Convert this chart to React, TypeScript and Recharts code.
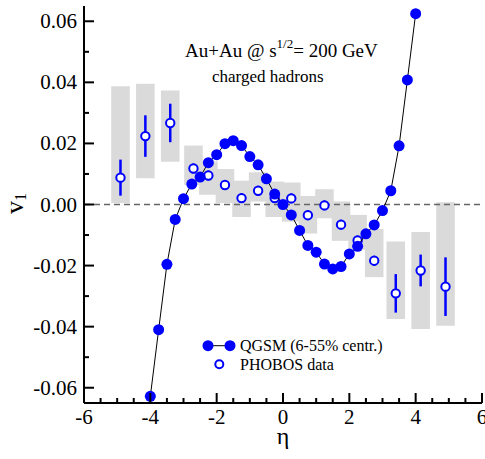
import React from 'react';
import { ComposedChart, Scatter, XAxis, YAxis, ReferenceArea, ReferenceLine, ErrorBar } from 'recharts';

// ---- data ----
const qgsmEta = [-4, -3.75, -3.5, -3.25, -3, -2.75, -2.5, -2.25, -2, -1.75, -1.5, -1.25, -1, -0.75, -0.5, -0.25, 0,
  0.25, 0.5, 0.75, 1, 1.25, 1.5, 1.75, 2, 2.25, 2.5, 2.75, 3, 3.25, 3.5, 3.75, 4];
const qgsmV1 = [-0.0628, -0.041, -0.0196, -0.0049, 0.0019, 0.0067, 0.009, 0.0137, 0.0163, 0.0199, 0.0209, 0.0193, 0.0157,
  0.013, 0.0084, 0.0034, 0.0, -0.0034, -0.0085, -0.0134, -0.0156, -0.0195, -0.0211, -0.0203, -0.0162, -0.0137, -0.0096,
  -0.0067, -0.002, 0.0045, 0.0192, 0.0408, 0.0625];

const phobosEta = [-4.9, -4.15, -3.4, -2.7, -2.25, -1.75, -1.25, -0.75, -0.25, 0.25, 0.75, 1.25, 1.75, 2.25, 2.75, 3.4, 4.15, 4.9];
const phobosV1 = [0.0088, 0.0224, 0.0267, 0.0118, 0.0095, 0.0064, 0.0021, 0.0045, 0.0021, 0.002, -0.0035, -0.0003,
  -0.0066, -0.0118, -0.0184, -0.0291, -0.0216, -0.0269];
const phobosStat = [0.0059, 0.0068, 0.0063, 0.0016, 0.0016, 0.0016, 0.0016, 0.0016, 0.0016, 0.0016, 0.0016, 0.0016,
  0.0016, 0.0016, 0.0016, 0.0063, 0.0052, 0.0096];
const phobosSysHigh = [0.0387, 0.0395, 0.0373, 0.0193, 0.0141, 0.0116, 0.0078, 0.0106, 0.0075, 0.0072, 0.0028, 0.005,
  0.001, -0.0034, -0.008, -0.0121, -0.009, 0.0007];
const phobosSysLow = [0.0005, 0.0086, 0.014, 0.0064, 0.0032, 0.0005, -0.0041, 0.001, -0.0041, -0.0056, -0.0095, -0.0045,
  -0.0119, -0.0148, -0.0238, -0.0375, -0.0408, -0.0397];

const xMajorTicks = [-6, -4, -2, 0, 2, 4, 6];
const xTickLabels = ['-6', '-4', '-2', '0', '2', '4', '6'];
const xMinorTicks = [-5.5, -5, -4.5, -3.5, -3, -2.5, -1.5, -1, -0.5, 0.5, 1, 1.5, 2.5, 3, 3.5, 4.5, 5, 5.5];
const yMajorTicks = [-0.06, -0.04, -0.02, 0, 0.02, 0.04, 0.06];
const yTickLabels = ['-0.06', '-0.04', '-0.02', '0.00', '0.02', '0.04', '0.06'];
const yMinorTicks = [-0.05, -0.03, -0.01, 0.01, 0.03, 0.05];

// ---- build ----
const qgsmData = qgsmEta.map((eta, i) => ({ eta, v: qgsmV1[i] }));
const phobosData = phobosEta.map((eta, i) => ({ eta, v: phobosV1[i], err: phobosStat[i] }));
const xTicks = [...xMajorTicks, ...xMinorTicks].sort((a, b) => a - b);
const yTicks = [...yMajorTicks, ...yMinorTicks].sort((a, b) => a - b);

const FONT = '"Liberation Serif", "Times New Roman", serif';
const BLUE = '#0000ff';
const BOX_HALF = 0.28;
const MAJOR = 10;
const MINOR = 5;
const near = (a: number, b: number) => Math.abs(a - b) < 1e-9;

const BottomTick = (p: any) => {
  const i = xMajorTicks.findIndex((t) => near(t, p.payload.value));
  const len = i >= 0 ? MAJOR : MINOR;
  return (
    <g>
      <line x1={p.x} x2={p.x} y1={p.y} y2={p.y - len} stroke="#000" strokeWidth={2} />
      {i >= 0 && (
        <text x={p.x} y={p.y + 21} textAnchor="middle" fontFamily={FONT} fontSize={21} fill="#000">
          {xTickLabels[i]}
        </text>
      )}
    </g>
  );
};
const TopTick = (p: any) => {
  const i = xMajorTicks.findIndex((t) => near(t, p.payload.value));
  const len = i >= 0 ? MAJOR : MINOR;
  return <line x1={p.x} x2={p.x} y1={p.y} y2={p.y + len} stroke="#000" strokeWidth={2} />;
};
const LeftTick = (p: any) => {
  const i = yMajorTicks.findIndex((t) => near(t, p.payload.value));
  const len = i >= 0 ? MAJOR : MINOR;
  return (
    <g>
      <line x1={p.x} x2={p.x + len} y1={p.y} y2={p.y} stroke="#000" strokeWidth={2} />
      {i >= 0 && (
        <text x={p.x - 7} y={p.y + 7} textAnchor="end" fontFamily={FONT} fontSize={21} fill="#000">
          {yTickLabels[i]}
        </text>
      )}
    </g>
  );
};
const RightTick = (p: any) => {
  const i = yMajorTicks.findIndex((t) => near(t, p.payload.value));
  const len = i >= 0 ? MAJOR : MINOR;
  return <line x1={p.x} x2={p.x - len} y1={p.y} y2={p.y} stroke="#000" strokeWidth={2} />;
};

const FilledDot = (p: any) => <circle cx={p.cx} cy={p.cy} r={5.5} fill={BLUE} />;
const OpenDot = (p: any) => <circle cx={p.cx} cy={p.cy} r={4.2} fill="#fff" stroke={BLUE} strokeWidth={2} />;

export default function App() {
  return (
    <div style={{ position: 'absolute', left: 0, top: 0, width: 485, height: 459 }}>
      <ComposedChart width={485} height={459} margin={{ top: 6, right: 3, bottom: 26, left: 24 }}>
        <XAxis dataKey="eta" type="number" domain={[-6, 6]} ticks={xTicks} interval={0} allowDataOverflow
          height={30} tickSize={0} tickMargin={0} tickLine={false} axisLine={{ stroke: '#000', strokeWidth: 2 }}
          tick={BottomTick} />
        <XAxis xAxisId="top" orientation="top" type="number" domain={[-6, 6]} ticks={xTicks} interval={0}
          allowDataOverflow height={0} tickSize={0} tickMargin={0} tickLine={false}
          axisLine={{ stroke: '#000', strokeWidth: 2 }} tick={TopTick} />
        <YAxis dataKey="v" type="number" domain={[-0.065, 0.065]} ticks={yTicks} interval={0} allowDataOverflow
          width={60} tickSize={0} tickMargin={0} tickLine={false} axisLine={{ stroke: '#000', strokeWidth: 2 }}
          tick={LeftTick} />
        <YAxis yAxisId="right" orientation="right" type="number" domain={[-0.065, 0.065]} ticks={yTicks}
          interval={0} allowDataOverflow width={0} tickSize={0} tickMargin={0} tickLine={false}
          axisLine={{ stroke: '#000', strokeWidth: 2 }} tick={RightTick} />
        {phobosEta.map((eta, i) => (
          <ReferenceArea key={'box' + i} x1={eta - BOX_HALF} x2={eta + BOX_HALF} y1={phobosSysLow[i]}
            y2={phobosSysHigh[i]} fill="#dadada" fillOpacity={1} stroke="none" ifOverflow="visible" />
        ))}
        <ReferenceLine y={0} stroke="#666" strokeWidth={1.5} strokeDasharray="6 4" />
        <Scatter data={phobosData} shape={OpenDot} isAnimationActive={false}>
          <ErrorBar dataKey="err" direction="y" width={0} stroke={BLUE} strokeWidth={2.5} isAnimationActive={false} />
        </Scatter>
        <Scatter data={qgsmData} shape={FilledDot} line={{ stroke: '#000', strokeWidth: 1 }} isAnimationActive={false} />
      </ComposedChart>
      <svg width={485} height={459} style={{ position: 'absolute', left: 0, top: 0, pointerEvents: 'none' }}>
        <text x={185} y={57} fontFamily={FONT} fontSize={19} fill="#000">
          Au+Au @ s
          <tspan fontSize={13} dy={-9}>1/2</tspan>
          <tspan dy={9}>= 200 GeV</tspan>
        </text>
        <text x={212} y={82} fontFamily={FONT} fontSize={17} fill="#000">charged hadrons</text>
        <text x={283} y={444} textAnchor="middle" fontFamily={FONT} fontSize={24} fill="#000">η</text>
        <text transform="translate(23,214) rotate(-90)" fontFamily={FONT} fontSize={26} fill="#000">
          v<tspan fontSize={16} dy={3}>1</tspan>
        </text>
        <line x1={208} x2={230} y1={345.7} y2={345.7} stroke="#000" strokeWidth={1} />
        <circle cx={208} cy={345.7} r={5.5} fill={BLUE} />
        <circle cx={230} cy={345.7} r={5.5} fill={BLUE} />
        <text x={240} y={351} fontFamily={FONT} fontSize={16} fill="#000">QGSM (6-55% centr.)</text>
        <circle cx={219.3} cy={364.3} r={4} fill="#fff" stroke={BLUE} strokeWidth={2} />
        <text x={240} y={370} fontFamily={FONT} fontSize={16} fill="#000">PHOBOS data</text>
      </svg>
    </div>
  );
}
